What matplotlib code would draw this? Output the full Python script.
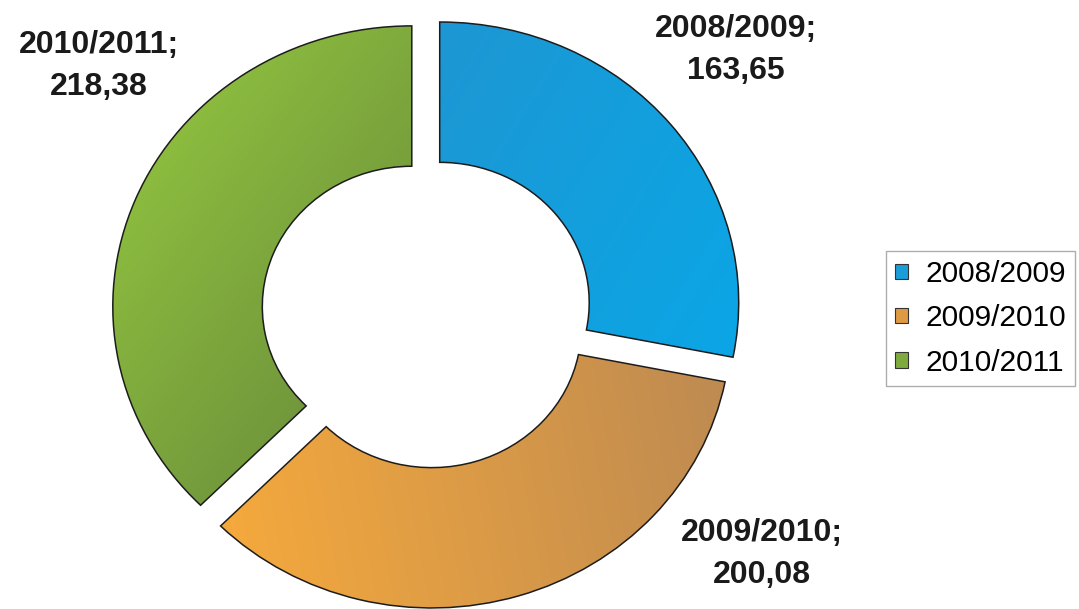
import matplotlib.pyplot as plt
import numpy as np
from matplotlib.colors import to_rgb
from matplotlib.patches import Patch

# data
seasons = ['2008/2009', '2009/2010', '2010/2011']
values = [163.65, 200.08, 218.38]

# style
light = ['#1d97d3', '#f7aa3c', '#97cb40']
dark = ['#0ba6e6', '#bd8a52', '#64853a']
mid = ['#1a9dd9', '#e09a44', '#7fab3e']
grad_angle = [-30, 10, -35]   # direction light -> dark, degrees
label_pos = [(736, 50), (762, 554), (99, 66)]   # pixel centres of the data labels

plt.rcParams['font.family'] = ['Liberation Sans', 'DejaVu Sans']

W, H = 1079, 609
fig = plt.figure(figsize=(W / 100, H / 100), dpi=100)
ax = fig.add_axes([0, 0, 1, 1])

wedges, _ = ax.pie(values, startangle=90, counterclock=False, radius=1.0,
                   explode=[0.055] * 3,
                   wedgeprops=dict(width=0.5, edgecolor='#1c1c1c', linewidth=1.1))

# gradient fill clipped to each wedge
for w, c0, c1, ang in zip(wedges, light, dark, grad_angle):
    v = w.get_path().vertices
    x0, x1 = v[:, 0].min(), v[:, 0].max()
    y0, y1 = v[:, 1].min(), v[:, 1].max()
    xx, yy = np.meshgrid(np.linspace(x0, x1, 200), np.linspace(y1, y0, 200))
    a = np.deg2rad(ang)
    t = (xx - x0) * np.cos(a) + (yy - y0) * np.sin(a)
    t = (t - t.min()) / (t.max() - t.min())
    c0 = np.array(to_rgb(c0)); c1 = np.array(to_rgb(c1))
    img = c0[None, None, :] * (1 - t[..., None]) + c1[None, None, :] * t[..., None]
    im = ax.imshow(img, extent=[x0, x1, y0, y1], aspect='auto', interpolation='bilinear', zorder=1)
    im.set_clip_path(w)
    w.set_facecolor('none')
    w.set_zorder(2)

ax.set_aspect('auto')
sx, sy = 299.0, 280.7
cx, cy = 427.0, 312.5
ax.set_xlim(-cx / sx, (W - cx) / sx)
ax.set_ylim(-(H - cy) / sy, cy / sy)
ax.axis('off')

for s, v, (px, py) in zip(seasons, values, label_pos):
    txt = s + ';\n' + ('%.2f' % v).replace('.', ',')
    fig.text(px / W, 1 - py / H, txt, ha='center', va='center', fontsize=23,
             fontweight='bold', color='#1a1a1a', linespacing=1.55)

handles = [Patch(facecolor=c, edgecolor='#333333', linewidth=0.8) for c in mid]
leg = fig.legend(handles, seasons, loc='upper left', bbox_to_anchor=(886 / W, 1 - 251 / H),
                 borderaxespad=0, fontsize=21.5, frameon=True, fancybox=False,
                 handlelength=0.42, handleheight=0.42, handletextpad=0.6,
                 labelspacing=0.55, borderpad=0.3)
leg.get_frame().set_edgecolor('#999999')
leg.get_frame().set_linewidth(1.0)

plt.savefig('out.png', dpi=100)
